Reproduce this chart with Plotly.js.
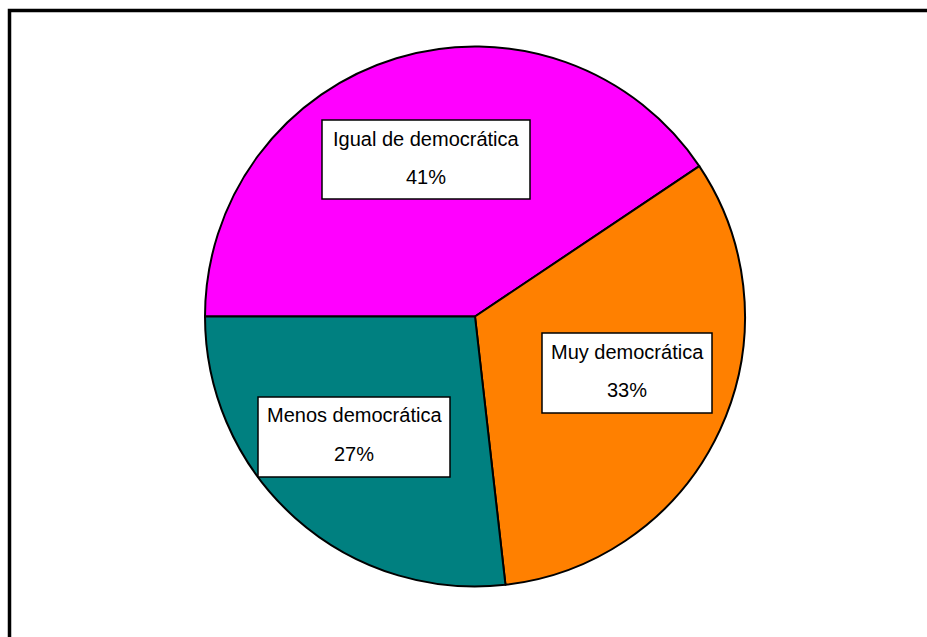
<!DOCTYPE html>
<html>
<head>
<meta charset="utf-8">
<script src="https://cdn.plot.ly/plotly-3.0.1.min.js"></script>
<style>html,body{margin:0;padding:0;background:#fff;}#chart{width:927px;height:637px;}</style>
</head>
<body>
<div id="chart"></div>
<script>
// Data
var categories = ["Igual de democrática", "Muy democrática", "Menos democrática"];
var values = [40.6, 32.6, 26.8];
var percentLabels = ["41%", "33%", "27%"];
var colors = ["#FF00FF", "#FF8000", "#008080"];

var W = 927, H = 637;
function px(x){ return x / W; }
function py(y){ return 1 - y / H; }

// label box geometry in pixels [x0, y0, x1, y1, labelY, pctY]
var boxes = [
  [322, 120, 530, 199, 139, 177],
  [542, 333, 712, 413, 352, 390],
  [258, 397, 450, 477, 415, 454]
];

var shapes = [{
  type: "rect", xref: "paper", yref: "paper",
  x0: px(9.5), x1: px(940), y0: py(650), y1: py(10.5),
  line: {color: "#000", width: 3.5}, fillcolor: "rgba(0,0,0,0)"
}];
var annotations = [];
var fnt = {family: "Liberation Sans, Arial, sans-serif", size: 20, color: "#000"};
boxes.forEach(function(b, i){
  shapes.push({
    type: "rect", xref: "paper", yref: "paper",
    x0: px(b[0]), x1: px(b[2]), y0: py(b[3]), y1: py(b[1]),
    line: {color: "#000", width: 1.5}, fillcolor: "#fff", layer: "above"
  });
  var cx = px((b[0] + b[2]) / 2);
  annotations.push({
    xref: "paper", yref: "paper", x: cx, y: py(b[4]),
    xanchor: "center", yanchor: "middle", showarrow: false,
    text: categories[i], font: fnt
  });
  annotations.push({
    xref: "paper", yref: "paper", x: cx, y: py(b[5]),
    xanchor: "center", yanchor: "middle", showarrow: false,
    text: percentLabels[i], font: fnt
  });
});

var trace = {
  type: "pie",
  labels: categories,
  values: values,
  sort: false,
  direction: "clockwise",
  rotation: -90,
  marker: {colors: colors, line: {color: "#000", width: 2}},
  textinfo: "none",
  hoverinfo: "label+percent",
  showlegend: false,
  domain: {x: [px(205), px(745)], y: [py(588), py(45)]}
};

var layout = {
  width: W, height: H,
  margin: {l: 0, r: 0, t: 0, b: 0},
  paper_bgcolor: "#fff",
  plot_bgcolor: "#fff",
  showlegend: false,
  shapes: shapes,
  annotations: annotations
};

Plotly.newPlot("chart", [trace], layout, {displayModeBar: false, staticPlot: true});
</script>
</body>
</html>
